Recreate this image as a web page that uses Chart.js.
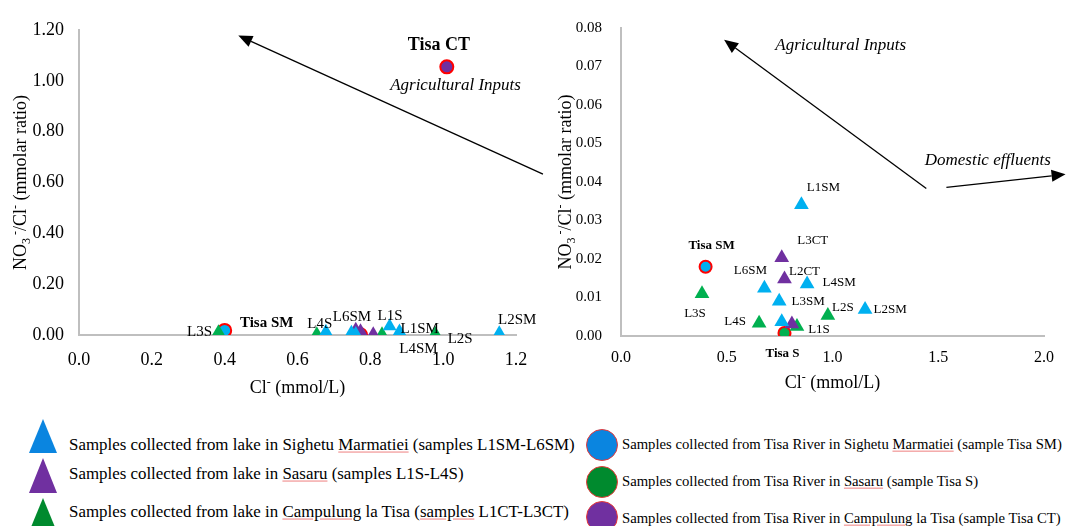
<!DOCTYPE html>
<html>
<head>
<meta charset="utf-8">
<script src="https://cdn.jsdelivr.net/npm/chart.js@4.4.1/dist/chart.umd.min.js"></script>
<style>
  body { margin: 0; background: #fff; width: 1067px; height: 526px; position: relative; overflow: hidden;
         font-family: "Liberation Serif", "Times New Roman", serif; }
  #leftBox { position: absolute; left: 0; top: 0; width: 545px; height: 405px; }
  #rightBox { position: absolute; left: 545px; top: 0; width: 522px; height: 405px; }
  .tri { position: absolute; width: 0; height: 0; border-left: 14px solid transparent; border-right: 14px solid transparent; }
  .dot { position: absolute; width: 30px; height: 30px; border-radius: 50%; border: 1px solid #e83a3a; }
  .lg { position: absolute; white-space: nowrap; color: #000; line-height: 1; transform: translateY(-50%); }
  .sp { text-decoration: underline; text-decoration-color: #ee8080; text-underline-offset: 2px; }
</style>
</head>
<body>
<div id="leftBox"><canvas id="leftChart"></canvas></div>
<div id="rightBox"><canvas id="rightChart"></canvas></div>

<div class="tri" style="left:29px;top:419px;border-bottom:34px solid #0a85e0"></div>
<div class="tri" style="left:29px;top:458px;border-bottom:35px solid #7030a0"></div>
<div class="tri" style="left:29px;top:498px;border-bottom:34px solid #008a2e"></div>
<div class="lg" style="left:69px;top:445px;font-size:16.9px">Samples collected from lake in Sighetu <span class="sp">Marmatiei</span> (samples L1SM-L6SM)</div>
<div class="lg" style="left:69px;top:474px;font-size:16.9px">Samples collected from lake in <span class="sp">Sasaru</span> (samples L1S-L4S)</div>
<div class="lg" style="left:69px;top:512px;font-size:16.9px">Samples collected from lake in <span class="sp">Campulung</span> la Tisa (<span class="sp">samples</span> L1CT-L3CT)</div>

<div class="dot" style="left:586px;top:429px;background:#0a85e0"></div>
<div class="dot" style="left:586px;top:466px;background:#008a2e"></div>
<div class="dot" style="left:586px;top:501px;background:#7030a0"></div>
<div class="lg" style="left:622px;top:444px;font-size:14.7px">Samples collected from Tisa River in Sighetu <span class="sp">Marmatiei</span> (sample Tisa SM)</div>
<div class="lg" style="left:622px;top:481px;font-size:14.7px">Samples collected from Tisa River in <span class="sp">Sasaru</span> (sample Tisa S)</div>
<div class="lg" style="left:622px;top:518px;font-size:14.7px">Samples collected from Tisa River in <span class="sp">Campulung</span> la Tisa (sample Tisa CT)</div>

<script>
// Cl- (mmol/L) and NO3-/Cl- (molar ratio) for each sample
const smNames = ['L1SM', 'L2SM', 'L3SM', 'L4SM', 'L5SM', 'L6SM'];
const smCl    = [0.853, 1.154, 0.748, 0.880, 0.760, 0.678];
const smRatio = [0.0341, 0.0069, 0.0090, 0.0135, 0.0037, 0.0124];

const sNames = ['L1S', 'L2S', 'L3S', 'L4S'];
const sCl    = [0.832, 0.978, 0.383, 0.653];
const sRatio = [0.0025, 0.0053, 0.0110, 0.0033];

const ctNames = ['L1CT', 'L2CT', 'L3CT'];
const ctCl    = [0.808, 0.773, 0.760];
const ctRatio = [0.0031, 0.0148, 0.0203];

const riverNames = ['Tisa SM', 'Tisa S', 'Tisa CT'];
const riverCl    = [0.400, 0.773, 1.010];
const riverRatio = [0.0180, 0.0008, 1.055];

const leftXTicks  = [0, 0.2, 0.4, 0.6, 0.8, 1.0, 1.2];
const leftYTicks  = [0, 0.2, 0.4, 0.6, 0.8, 1.0, 1.2];
const rightXTicks = [0, 0.5, 1.0, 1.5, 2.0];
const rightYTicks = [0, 0.01, 0.02, 0.03, 0.04, 0.05, 0.06, 0.07, 0.08];

const BLUE = '#00b0f0', GREEN = '#00b050', PURPLE = '#7030a0', RED = '#ff0000';
const FONT = '"Liberation Serif", "Times New Roman", serif';

function pts(xs, ys) {
    return xs.map((v, i) => ({x: v, y: ys[i]}));
}

function makeData(triR, dotR) {
    return {
        datasets: [
            {names: smNames, data: pts(smCl, smRatio), backgroundColor: BLUE, pointStyle: 'triangle', pointRadius: triR, borderWidth: 0},
            {names: ctNames, data: pts(ctCl, ctRatio), backgroundColor: PURPLE, pointStyle: 'triangle', pointRadius: triR, borderWidth: 0},
            {names: sNames, data: pts(sCl, sRatio), backgroundColor: GREEN, pointStyle: 'triangle', pointRadius: triR, borderWidth: 0},
            {names: riverNames, data: pts(riverCl, riverRatio), backgroundColor: [BLUE, GREEN, PURPLE],
             borderColor: RED, borderWidth: 2, pointStyle: 'circle', pointRadius: dotR}
        ]
    };
}

// text with sub/superscripts, centred on (x, y)
function drawRich(ctx, parts, x, y, rot, size) {
    const fontOf = p => ((p.sub || p.sup) ? Math.round(size * 0.65) : size) + 'px ' + FONT;
    let w = 0;
    parts.forEach(p => { ctx.font = fontOf(p); w += ctx.measureText(p.t).width; });
    ctx.save();
    ctx.translate(x, y);
    ctx.rotate(rot);
    ctx.textAlign = 'left';
    ctx.textBaseline = 'alphabetic';
    ctx.fillStyle = '#000';
    let cx = -w / 2;
    parts.forEach(p => {
        ctx.font = fontOf(p);
        let dy = p.sub ? size * 0.22 : (p.sup ? -size * 0.38 : 0);
        ctx.fillText(p.t, cx, size * 0.33 + dy);
        cx += ctx.measureText(p.t).width;
    });
    ctx.restore();
}

const yTitle = [{t: 'NO'}, {t: '3', sub: true}, {t: ' -', sup: true}, {t: '/Cl'}, {t: '-', sup: true}, {t: ' (mmolar ratio)'}];
const xTitle = [{t: 'Cl'}, {t: '-', sup: true}, {t: ' (mmol/L)'}];

const annot = {
    id: 'annot',
    afterDatasetsDraw(chart, args, o) {
        const ctx = chart.ctx, xs = chart.scales.x, ys = chart.scales.y;
        ctx.save();
        // arrows
        ctx.strokeStyle = '#000';
        ctx.fillStyle = '#000';
        ctx.lineWidth = 1.3;
        o.arrows.forEach(a => {
            const x1 = xs.getPixelForValue(a[0]), y1 = ys.getPixelForValue(a[1]);
            const x2 = xs.getPixelForValue(a[2]), y2 = ys.getPixelForValue(a[3]);
            const ang = Math.atan2(y2 - y1, x2 - x1);
            const len = 14, half = 6;
            const bx = x2 - Math.cos(ang) * len, by = y2 - Math.sin(ang) * len;
            ctx.beginPath();
            ctx.moveTo(x1, y1);
            ctx.lineTo(bx, by);
            ctx.stroke();
            ctx.beginPath();
            ctx.moveTo(x2, y2);
            ctx.lineTo(bx + Math.sin(ang) * half, by - Math.cos(ang) * half);
            ctx.lineTo(bx - Math.sin(ang) * half, by + Math.cos(ang) * half);
            ctx.closePath();
            ctx.fill();
        });
        // italic notes
        ctx.textAlign = 'center';
        ctx.textBaseline = 'middle';
        o.notes.forEach(n => {
            ctx.font = 'italic ' + o.noteSize + 'px ' + FONT;
            ctx.fillText(n[0], xs.getPixelForValue(n[1]), ys.getPixelForValue(n[2]));
        });
        // point labels
        chart.data.datasets.forEach((ds, di) => {
            const meta = chart.getDatasetMeta(di);
            ds.names.forEach((nm, i) => {
                const off = o.labels[nm];
                if (!off) return;
                const p = meta.data[i];
                const bold = nm.startsWith('Tisa');
                const size = off[2] || (bold ? o.boldSize : o.labelSize);
                ctx.font = (bold ? 'bold ' : '') + size + 'px ' + FONT;
                ctx.fillText(nm, p.x + off[0], p.y + off[1]);
            });
        });
        ctx.restore();
        // axis titles
        const ca = chart.chartArea;
        drawRich(ctx, yTitle, o.yTitleX, (ca.top + ca.bottom) / 2, -Math.PI / 2, 18);
        drawRich(ctx, xTitle, (ca.left + ca.right) / 2, o.xTitleY, 0, 18);
    }
};

function axis(ticks, fmt, size, pad, fit) {
    return {
        type: 'linear',
        min: ticks[0],
        max: ticks[ticks.length - 1],
        afterBuildTicks: s => { s.ticks = ticks.map(v => ({value: v})); },
        afterFit: fit,
        grid: {display: false, drawTicks: false},
        border: {display: true, color: '#bfbfbf', width: 2},
        ticks: {
            callback: v => Number(v).toFixed(fmt),
            font: {family: FONT, size: size},
            color: '#000',
            padding: pad,
            autoSkip: false,
            maxRotation: 0
        }
    };
}

new Chart(document.getElementById('leftChart'), {
    type: 'scatter',
    data: makeData(8, 6.5),
    options: {
        responsive: true,
        maintainAspectRatio: false,
        animation: false,
        layout: {padding: {left: 0, top: 30, right: 29, bottom: 0}},
        plugins: {
            legend: {display: false},
            tooltip: {enabled: false},
            annot: {
                arrows: [[1.274, 0.633, 0.4375, 1.178]],
                notes: [['Agricultural Inputs', 1.034, 0.98]],
                noteSize: 17,
                labelSize: 15,
                boldSize: 15,
                labels: {
                    'L3S': [-19, 0], 'Tisa SM': [42, -7], 'L4S': [3, -10], 'L6SM': [26, -15],
                    'L1S': [8, -18], 'L1SM': [30, 3], 'L4SM': [19, 17], 'L2S': [25, 5],
                    'L2SM': [18, -13], 'Tisa CT': [-8, -22, 18]
                },
                yTitleX: 20,
                xTitleY: 387
            }
        },
        scales: {
            x: axis(leftXTicks, 1, 18, 14, s => { s.height = 70; }),
            y: axis(leftYTicks, 2, 18, 15, s => { s.width = 79; })
        }
    },
    plugins: [annot]
});

new Chart(document.getElementById('rightChart'), {
    type: 'scatter',
    data: makeData(8.5, 6),
    options: {
        responsive: true,
        maintainAspectRatio: false,
        animation: false,
        layout: {padding: {left: 0, top: 20, right: 23, bottom: 0}},
        plugins: {
            legend: {display: false},
            tooltip: {enabled: false},
            annot: {
                arrows: [[1.4436, 0.03833, 0.4875, 0.07694], [1.5385, 0.03859, 2.102, 0.0420]],
                notes: [['Agricultural Inputs', 1.039, 0.0755], ['Domestic effluents', 1.734, 0.0457]],
                noteSize: 17,
                labelSize: 13,
                boldSize: 13,
                labels: {
                    'L1SM': [22, -17], 'Tisa SM': [6, -21], 'L3CT': [31, -17], 'L6SM': [-14, -18],
                    'L2CT': [20, -7], 'L4SM': [32, -1], 'L3SM': [29, 0], 'L2S': [15, -8],
                    'L2SM': [25, 0], 'L3S': [-7, 20], 'L4S': [-24, -2], 'L1S': [22, 3], 'Tisa S': [-2, 21]
                },
                yTitleX: 20,
                xTitleY: 382
            }
        },
        scales: {
            x: axis(rightXTicks, 1, 16, 12, s => { s.height = 69; }),
            y: axis(rightYTicks, 2, 15, 19, s => { s.width = 76; })
        }
    },
    plugins: [annot]
});
</script>
</body>
</html>
